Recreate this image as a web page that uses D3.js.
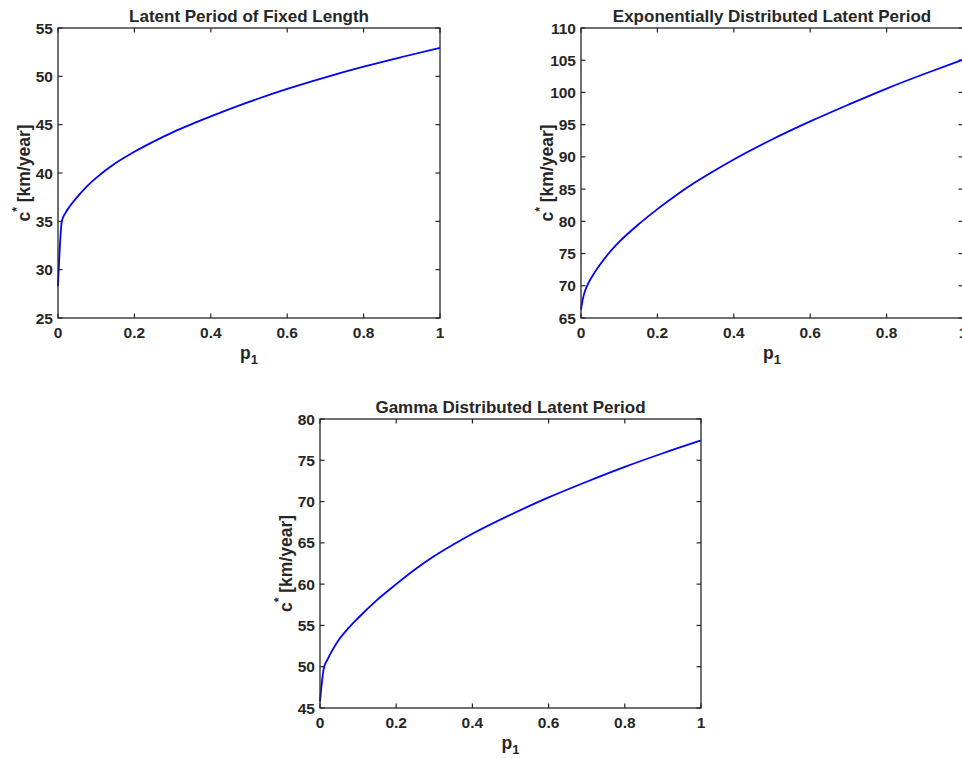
<!DOCTYPE html>
<html>
<head>
<meta charset="utf-8">
<script src="https://cdn.jsdelivr.net/npm/d3@7"></script>
<style>
  html, body { margin: 0; padding: 0; background: #fff; }
  svg { display: block; }
  text { font-family: "Liberation Sans", Arial, Helvetica, sans-serif; font-weight: bold; fill: #262626; }
</style>
</head>
<body>
<svg id="chart" width="962" height="758"></svg>
<script>
// ---- data ----
const titles = ["Latent Period of Fixed Length", "Exponentially Distributed Latent Period", "Gamma Distributed Latent Period"];
const xTicks = [0, 0.2, 0.4, 0.6, 0.8, 1];
const xTickLabels = ["0", "0.2", "0.4", "0.6", "0.8", "1"];

const fixedP = [0, 0.01, 0.02, 0.03, 0.05, 0.075, 0.1, 0.15, 0.2, 0.25, 0.3, 0.35, 0.4, 0.5, 0.6, 0.7, 0.8, 0.9, 1.0];
const fixedC = [28.3, 35.0, 35.9, 36.5, 37.5, 38.6, 39.5, 41.0, 42.2, 43.25, 44.2, 45.05, 45.85, 47.35, 48.7, 49.9, 51.0, 52.0, 52.95];
const fixedYTicks = [25, 30, 35, 40, 45, 50, 55];

const expP = [0, 0.005, 0.01, 0.02, 0.035, 0.05, 0.075, 0.1, 0.15, 0.2, 0.25, 0.3, 0.35, 0.4, 0.5, 0.6, 0.7, 0.8, 0.9, 1.0];
const expC = [66.3, 68.0, 69.1, 70.5, 72.0, 73.3, 75.2, 76.8, 79.5, 81.9, 84.1, 86.1, 87.9, 89.6, 92.7, 95.5, 98.1, 100.6, 102.9, 105.1];
const expYTicks = [65, 70, 75, 80, 85, 90, 95, 100, 105, 110];

const gammaP = [0, 0.01, 0.02, 0.03, 0.05, 0.075, 0.1, 0.15, 0.2, 0.25, 0.3, 0.35, 0.4, 0.5, 0.6, 0.7, 0.8, 0.9, 1.0];
const gammaC = [45.8, 49.8, 50.9, 51.8, 53.3, 54.7, 55.9, 58.1, 60.0, 61.8, 63.4, 64.8, 66.1, 68.4, 70.5, 72.4, 74.2, 75.85, 77.4];
const gammaYTicks = [45, 50, 55, 60, 65, 70, 75, 80];

// ---- layout ----
const panels = [
  { title: titles[0], xs: fixedP, ys: fixedC, yTicks: fixedYTicks, box: [58, 28, 440, 318] },
  { title: titles[1], xs: expP, ys: expC, yTicks: expYTicks, box: [581, 28, 963, 318] },
  { title: titles[2], xs: gammaP, ys: gammaC, yTicks: gammaYTicks, box: [320, 419, 701, 708] }
];

const svg = d3.select("#chart");
const axisColor = "#262626";
const tickLen = 4.5;

panels.forEach(p => {
  const [x0, y0, x1, y1] = p.box;
  const x = d3.scaleLinear().domain([0, 1]).range([x0, x1]);
  const yDom = d3.extent(p.yTicks);
  const y = d3.scaleLinear().domain(yDom).range([y1, y0]);
  const g = svg.append("g");

  // inner ticks on all four sides
  const tickG = g.append("g").attr("stroke", axisColor).attr("stroke-width", 1.2);
  xTicks.forEach(t => {
    tickG.append("line").attr("x1", x(t)).attr("x2", x(t)).attr("y1", y1).attr("y2", y1 - tickLen);
    tickG.append("line").attr("x1", x(t)).attr("x2", x(t)).attr("y1", y0).attr("y2", y0 + tickLen);
  });
  p.yTicks.forEach(t => {
    tickG.append("line").attr("x1", x0).attr("x2", x0 + tickLen).attr("y1", y(t)).attr("y2", y(t));
    tickG.append("line").attr("x1", x1).attr("x2", x1 - tickLen).attr("y1", y(t)).attr("y2", y(t));
  });

  // data line
  const pts = p.xs.map((v, i) => [v, p.ys[i]]);
  g.append("path")
    .datum(pts)
    .attr("fill", "none")
    .attr("stroke", "#0000ff")
    .attr("stroke-width", 1.8)
    .attr("stroke-linejoin", "round")
    .attr("d", d3.line().x(d => x(d[0])).y(d => y(d[1])).curve(d3.curveMonotoneX));

  // box
  g.append("rect")
    .attr("x", x0).attr("y", y0).attr("width", x1 - x0).attr("height", y1 - y0)
    .attr("fill", "none").attr("stroke", axisColor).attr("stroke-width", 1.3);

  // tick labels
  xTicks.forEach((t, i) => {
    g.append("text").attr("x", x(t)).attr("y", y1 + 20)
      .attr("text-anchor", "middle").attr("font-size", 15.5).text(xTickLabels[i]);
  });
  p.yTicks.forEach(t => {
    g.append("text").attr("x", x0 - 5).attr("y", y(t) + 5.5)
      .attr("text-anchor", "end").attr("font-size", 15.5).text(String(t));
  });

  // title
  g.append("text").attr("x", (x0 + x1) / 2).attr("y", y0 - 6)
    .attr("text-anchor", "middle").attr("font-size", 17).text(p.title);

  // x label p_1
  const xl = g.append("text").attr("x", (x0 + x1) / 2).attr("y", y1 + 41)
    .attr("text-anchor", "middle").attr("font-size", 17.5);
  xl.append("tspan").text("p");
  xl.append("tspan").attr("font-size", 13).attr("dy", 5).text("1");

  // y label c^* [km/year]
  const cy = (y0 + y1) / 2;
  const yl = g.append("text")
    .attr("transform", `translate(${x0 - 28},${cy}) rotate(-90)`)
    .attr("text-anchor", "middle").attr("font-size", 17.5);
  yl.append("tspan").text("c");
  yl.append("tspan").attr("font-size", 12).attr("dy", -9).text("*");
  yl.append("tspan").attr("dy", 9).text(" [km/year]");
});
</script>
</body>
</html>
